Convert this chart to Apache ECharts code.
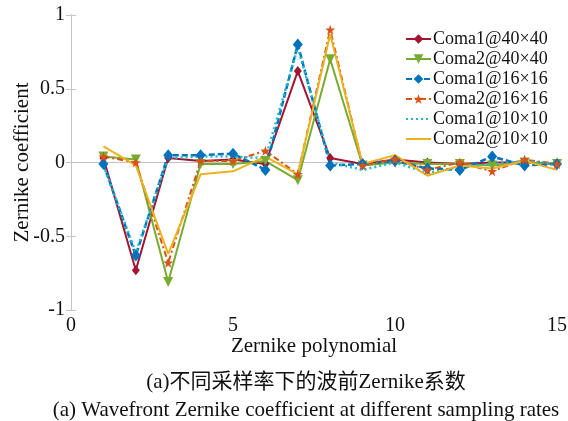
<!DOCTYPE html>
<html>
<head>
<meta charset="utf-8">
<script src="https://cdn.jsdelivr.net/npm/echarts@6/dist/echarts.min.js"></script>
<style>
  html, body { margin: 0; padding: 0; background: #fff; }
  #chart { width: 568px; height: 421px; }
</style>
</head>
<body>
<div id="chart"></div>
<script>
// Zernike polynomial index (1..15)
const terms = [1, 2, 3, 4, 5, 6, 7, 8, 9, 10, 11, 12, 13, 14, 15];

// Coefficients per aberration / sampling grid
const coma1_40 = [0.03, -0.73, 0.03, 0.01, 0.02, -0.01, 0.62, 0.03, -0.01, 0.02, 0.00, -0.01, 0.00, 0.00, -0.01];
const coma2_40 = [0.04, 0.02, -0.81, -0.01, -0.01, 0.01, -0.12, 0.70, -0.02, 0.00, -0.01, -0.01, -0.02, 0.00, -0.01];
const coma1_16 = [-0.01, -0.63, 0.05, 0.05, 0.06, -0.05, 0.80, -0.02, -0.01, 0.01, -0.04, -0.05, 0.04, -0.02, -0.01];
const coma2_16 = [0.04, 0.00, -0.68, 0.01, 0.01, 0.08, -0.08, 0.90, -0.02, 0.02, -0.05, 0.00, -0.06, 0.02, -0.01];
const coma1_10 = [-0.02, -0.61, 0.03, 0.04, 0.04, 0.03, 0.78, 0.00, -0.05, 0.00, -0.07, -0.03, -0.01, 0.01, -0.01];
const coma2_10 = [0.11, -0.02, -0.62, -0.08, -0.06, 0.04, -0.08, 0.87, -0.01, 0.05, -0.09, -0.02, -0.04, 0.01, -0.05];

const seriesNames = ['Coma1@40×40', 'Coma2@40×40', 'Coma1@16×16', 'Coma2@16×16', 'Coma1@10×10', 'Coma2@10×10'];
// series drawn as bare lines (no markers)
const plainSeries = ['Coma1@10×10', 'Coma2@10×10'];

const xLabel = 'Zernike polynomial';
const yLabel = 'Zernike coefficient';
const captionCn = '(a)不同采样率下的波前Zernike系数';
const captionEn = '(a) Wavefront Zernike coefficient at different sampling rates';

const serif = '"Liberation Serif", "Times New Roman", serif';
const cjk = '"Liberation Serif", "Noto Sans CJK SC", serif';
const frame = '#c4c4c4';
const ink = '#111';

const STAR = 'path://M0,-10L2.35,-3.24L9.51,-3.09L3.8,1.24L5.88,8.09L0,4L-5.88,8.09L-3.8,1.24L-9.51,-3.09L-2.35,-3.24Z';

const pairs = vals => terms.map((t, i) => [t, vals[i]]);

function lineSeries(name, vals, color, dash, width, symbol, size, rotate) {
  return {
    name: name,
    type: 'line',
    data: pairs(vals),
    xAxisIndex: 0, yAxisIndex: 0,
    showSymbol: symbol !== 'none',
    symbol: symbol,
    symbolSize: size,
    symbolRotate: rotate || 0,
    itemStyle: { color: color },
    lineStyle: { color: color, width: width, type: dash },
    animation: false
  };
}

const chart = echarts.init(document.getElementById('chart'), null, { renderer: 'canvas' });

const boxAxis = {
  axisLine: { show: true, lineStyle: { color: frame, width: 1 } },
  axisTick: { show: true, inside: true, length: 5, lineStyle: { color: frame } },
  axisLabel: { show: false },
  splitLine: { show: false }
};

chart.setOption({
  backgroundColor: '#fff',
  animation: false,
  grid: { left: 71, right: 11, top: 15, bottom: 111, containLabel: false, outerBoundsMode: 'none' },
  legend: {
    orient: 'vertical',
    left: 405,
    top: 29,
    padding: 0,
    itemWidth: 25,
    itemHeight: 12,
    itemGap: 0,
    data: seriesNames.map(n => plainSeries.includes(n) ? { name: n, itemStyle: { opacity: 0 } } : n),
    textStyle: { fontFamily: serif, fontSize: 18, color: ink, lineHeight: 20, padding: [0, 0, 0, -3] }
  },
  xAxis: [
    {
      type: 'value', min: 0, max: 15, interval: 5, position: 'bottom',
      name: xLabel, nameLocation: 'middle', nameGap: 26, nameMoveOverlap: false,
      nameTextStyle: { fontFamily: serif, fontSize: 21, color: ink },
      axisLine: { show: true, lineStyle: { color: frame, width: 1 } },
      axisTick: { show: true, inside: true, length: 5, lineStyle: { color: frame } },
      axisLabel: { fontFamily: serif, fontSize: 20, color: ink, margin: 6 },
      splitLine: { show: false }
    },
    Object.assign({ type: 'value', min: 0, max: 15, interval: 5, position: 'top' }, boxAxis)
  ],
  yAxis: [
    {
      type: 'value', min: -1, max: 1, interval: 0.5, position: 'left',
      name: yLabel, nameLocation: 'middle', nameGap: 38, nameMoveOverlap: false,
      nameTextStyle: { fontFamily: serif, fontSize: 21, color: ink },
      axisLine: { show: true, lineStyle: { color: frame, width: 1 } },
      axisTick: { show: true, inside: true, length: 5, lineStyle: { color: frame } },
      axisLabel: { fontFamily: serif, fontSize: 20, color: ink, margin: 6 },
      splitLine: { show: false }
    },
    Object.assign({ type: 'value', min: -1, max: 1, interval: 0.5, position: 'right' }, boxAxis)
  ],
  graphic: [
    {
      type: 'text', x: 306, y: 382,
      style: { text: captionCn, font: '21px ' + cjk, fill: ink, textAlign: 'center', textVerticalAlign: 'middle' }
    },
    {
      type: 'text', x: 306, y: 410,
      style: { text: captionEn, font: '21px ' + serif, fill: ink, textAlign: 'center', textVerticalAlign: 'middle' }
    }
  ],
  series: [
    lineSeries(seriesNames[0], coma1_40, '#A2142F', 'solid', 2, 'diamond', [8, 10]),
    lineSeries(seriesNames[1], coma2_40, '#77AC30', 'solid', 2, 'triangle', 10, 180),
    lineSeries(seriesNames[2], coma1_16, '#0072BD', [6, 3], 2.5, 'diamond', [10, 12]),
    lineSeries(seriesNames[3], coma2_16, '#D95319', [6, 3, 2, 3], 2, STAR, 10),
    lineSeries(seriesNames[4], coma1_10, '#1DBBCB', [2, 3], 2.5, 'none', 0),
    lineSeries(seriesNames[5], coma2_10, '#EDB120', 'solid', 2, 'none', 0)
  ]
});
</script>
</body>
</html>
